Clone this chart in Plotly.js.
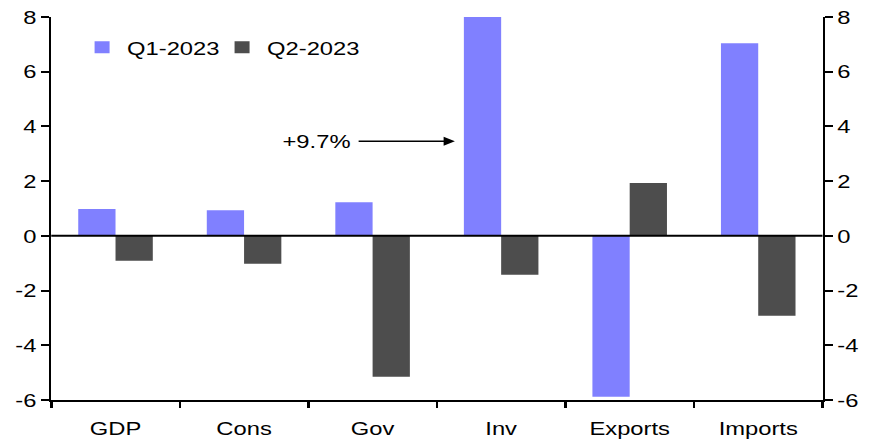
<!DOCTYPE html>
<html>
<head>
<meta charset="utf-8">
<script src="https://cdn.plot.ly/plotly-3.0.1.min.js"></script>
<style>
html,body{margin:0;padding:0;background:#fff;overflow:hidden;}
#chart{width:700px;height:447px;transform:scale(1.25,1);transform-origin:0 0;}
</style>
</head>
<body>
<div id="chart"></div>
<script>
const categories = ["GDP", "Cons", "Gov", "Inv", "Exports", "Imports"];
const q1Values = [0.98, 0.94, 1.23, 9.7, -5.88, 7.04];
const q2Values = [-0.91, -1.02, -5.15, -1.42, 1.93, -2.92];
const seriesNames = ["Q1-2023", "Q2-2023"];
const yTicks = [-6, -4, -2, 0, 2, 4, 6, 8];

function mkFont() { return {family: "Liberation Sans, Arial, sans-serif", size: 19, color: "#000"}; }

const traces = [
  {type: "bar", name: seriesNames[0], x: categories, y: q1Values, marker: {color: "#8080FF"}, hoverinfo: "skip", legend: "legend"},
  {type: "bar", name: seriesNames[1], x: categories, y: q2Values, marker: {color: "#4D4D4D"}, hoverinfo: "skip", legend: "legend2"},
  {type: "scatter", mode: "none", x: categories, y: q2Values, yaxis: "y2", showlegend: false, hoverinfo: "skip"}
];

function yAxis(side) {
  return {
    side: side, range: [-6, 8], tickvals: yTicks, ticktext: yTicks.map(String),
    showgrid: false, zeroline: false, showline: true, linecolor: "#000", linewidth: 2,
    ticks: "outside", ticklen: 6, tickwidth: 2, tickcolor: "#000", tickfont: mkFont(), fixedrange: true
  };
}

function mkLegend(x) {
  return {orientation: "h", x: x, y: 0.97, xanchor: "left", yanchor: "top", font: mkFont(), bgcolor: "rgba(0,0,0,0)"};
}

const y2 = yAxis("right");
y2.overlaying = "y";
y2.anchor = "x";

const layout = {
  width: 700, height: 447,
  margin: {l: 41, r: 41.5, t: 17, b: 47},
  paper_bgcolor: "#fff", plot_bgcolor: "#fff",
  font: mkFont(),
  barmode: "group", bargap: 0.42, bargroupgap: 0,
  showlegend: true,
  legend: mkLegend(0.0335),
  legend2: mkLegend(0.215),
  xaxis: {
    type: "category", showgrid: false, zeroline: false, showline: true, linecolor: "#000", linewidth: 2,
    ticks: "outside", tickson: "boundaries", ticklen: 6, tickwidth: 2, tickcolor: "#000", tickfont: mkFont(),
    ticklabelstandoff: 10, fixedrange: true
  },
  yaxis: yAxis("left"),
  yaxis2: y2,
  shapes: [
    {type: "line", xref: "paper", x0: 0, x1: 1, yref: "y", y0: 0, y1: 0, line: {color: "#000", width: 2}}
  ],
  annotations: [
    {x: 2.64, y: 3.46, xref: "x", yref: "y", text: "+9.7%", showarrow: true, arrowhead: 2, arrowsize: 1.2, arrowwidth: 1.5, arrowcolor: "#000", ax: -110, ay: 0, borderpad: 5, font: mkFont()}
  ]
};

Plotly.newPlot("chart", traces, layout, {displayModeBar: false, staticPlot: true});
</script>
</body>
</html>
